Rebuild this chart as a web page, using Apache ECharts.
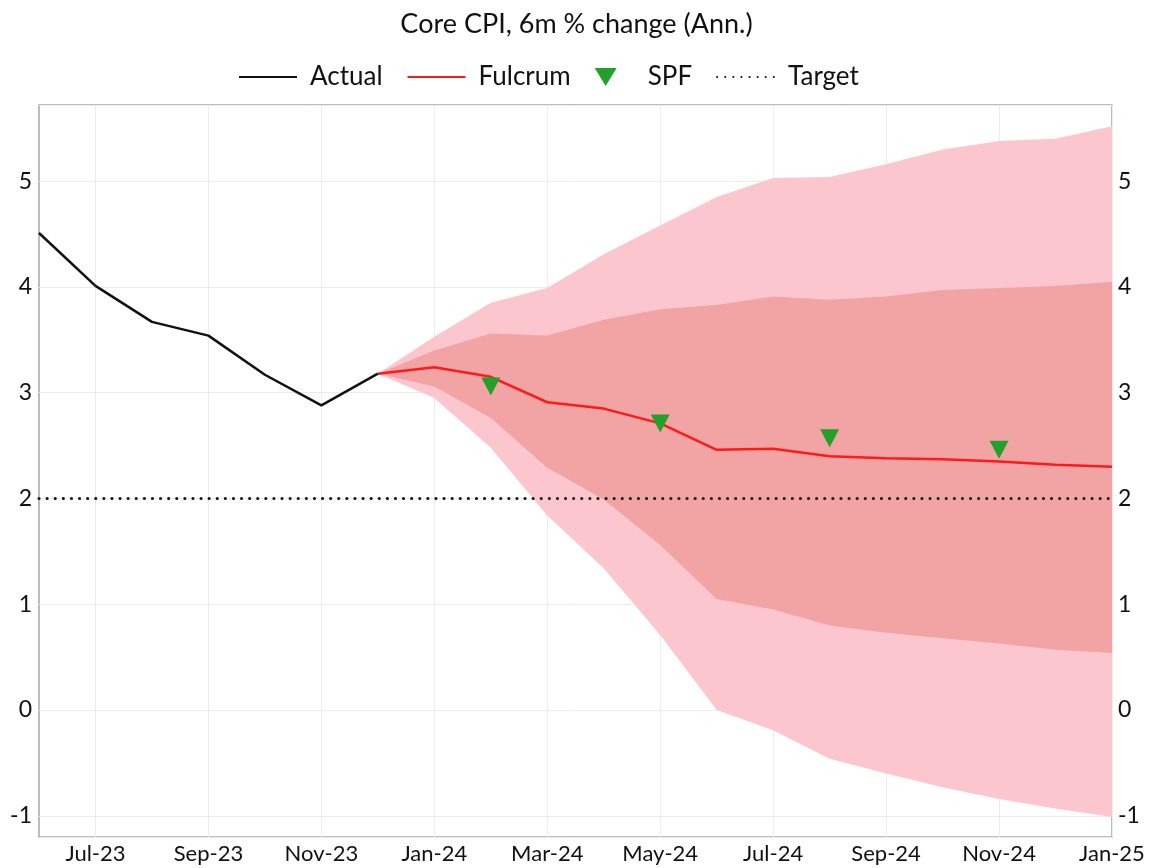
<!DOCTYPE html>
<html>
<head>
<meta charset="utf-8">
<script src="https://cdn.jsdelivr.net/npm/echarts@6/dist/echarts.min.js"></script>
<style>
  html, body { margin: 0; padding: 0; background: #fff; }
  #chart { width: 1153px; height: 868px; }
</style>
</head>
<body>
<div id="chart"></div>
<script>
const months = ['Jun-23', 'Jul-23', 'Aug-23', 'Sep-23', 'Oct-23', 'Nov-23', 'Dec-23',
  'Jan-24', 'Feb-24', 'Mar-24', 'Apr-24', 'May-24', 'Jun-24', 'Jul-24', 'Aug-24',
  'Sep-24', 'Oct-24', 'Nov-24', 'Dec-24', 'Jan-25']

const actual = [4.51, 4.01, 3.67, 3.54, 3.17, 2.88, 3.18,
  null, null, null, null, null, null, null, null, null, null, null, null, null]

const fulcrum = [null, null, null, null, null, null, 3.18,
  3.24, 3.15, 2.91, 2.85, 2.71, 2.46, 2.47, 2.40, 2.38, 2.37, 2.35, 2.32, 2.30]

// fan chart bands, from Dec-23 on
const outerUpper = [null, null, null, null, null, null, 3.18,
  3.53, 3.85, 3.99, 4.31, 4.58, 4.85, 5.03, 5.04, 5.16, 5.30, 5.38, 5.40, 5.52]
const innerUpper = [null, null, null, null, null, null, 3.18,
  3.40, 3.56, 3.54, 3.69, 3.79, 3.83, 3.91, 3.88, 3.91, 3.97, 3.99, 4.01, 4.05]
const innerLower = [null, null, null, null, null, null, 3.18,
  3.06, 2.76, 2.29, 1.99, 1.56, 1.05, 0.95, 0.80, 0.73, 0.68, 0.63, 0.57, 0.54]
const outerLower = [null, null, null, null, null, null, 3.18,
  2.95, 2.48, 1.84, 1.34, 0.71, 0.00, -0.19, -0.46, -0.60, -0.73, -0.84, -0.93, -1.01]

const spf = [null, null, null, null, null, null, null,
  null, 3.06, null, null, 2.71, null, null, 2.57, null, null, 2.46, null, null]

const target = months.map(() => 2)

const FONT = 'Lato'
const DOWN_TRIANGLE = 'path://M0,0 L22,0 L11,18 Z'
const clean = (arr) => arr.map((v) => (v == null ? '-' : v))
const diff = (hi, lo) => hi.map((v, i) => (v == null ? '-' : +(v - lo[i]).toFixed(3)))
const everyOther = (i) => i % 2 === 1

function band(name, lower, upper, color) {
  return [
    {
      name: name + '-base',
      type: 'line',
      stack: name,
      stackStrategy: 'all',
      data: clean(lower),
      showSymbol: false,
      lineStyle: { opacity: 0 },
      silent: true,
    },
    {
      name: name,
      type: 'line',
      stack: name,
      stackStrategy: 'all',
      data: diff(upper, lower),
      showSymbol: false,
      lineStyle: { opacity: 0 },
      areaStyle: { color: color, opacity: 1 },
      silent: true,
    },
  ]
}

const yLabel = {
  color: '#111',
  fontSize: 23,
  fontFamily: FONT,
  formatter: (v) => (Math.abs(v - Math.round(v)) < 1e-6 ? String(Math.round(v)) : ''),
}

const noDot = { opacity: 0 }

const chart = echarts.init(document.getElementById('chart'))
chart.setOption({
  animation: false,
  backgroundColor: '#fff',
  title: {
    text: 'Core CPI, 6m % change (Ann.)',
    left: 'center',
    top: 6,
    textStyle: { fontFamily: FONT, fontSize: 27, fontWeight: 'normal', color: '#111' },
  },
  legend: {
    top: 59,
    left: 233,
    itemWidth: 58,
    itemHeight: 18,
    itemGap: 24,
    data: [
      { name: 'Actual', itemStyle: noDot },
      { name: 'Fulcrum', itemStyle: noDot },
      { name: 'SPF', icon: DOWN_TRIANGLE },
      { name: 'Target', itemStyle: noDot },
    ],
    textStyle: { fontFamily: FONT, fontSize: 26, color: '#111', padding: [0, 0, 0, 8] },
  },
  grid: {
    left: 39, right: 41, top: 105, bottom: 31,
    show: true, borderColor: '#a8a8a8', borderWidth: 1.5,
  },
  xAxis: {
    type: 'category',
    data: months,
    boundaryGap: false,
    axisLine: { show: false },
    axisTick: { show: false },
    axisLabel: { interval: everyOther, color: '#111', fontSize: 22, fontFamily: FONT, margin: 6 },
    splitLine: { show: true, interval: everyOther, lineStyle: { color: '#ececec', width: 1 } },
  },
  yAxis: [
    {
      type: 'value',
      min: -1.2,
      max: 5.72,
      splitNumber: 7,
      axisLine: { show: false },
      axisTick: { show: false },
      axisLabel: Object.assign({ margin: 7 }, yLabel),
      splitLine: { lineStyle: { color: '#ececec', width: 1 } },
    },
    {
      type: 'value',
      position: 'right',
      min: -1.2,
      max: 5.72,
      splitNumber: 7,
      axisLine: { show: false },
      axisTick: { show: false },
      axisLabel: Object.assign({ margin: 6 }, yLabel),
      splitLine: { show: false },
    },
  ],
  series: [
    ...band('outer', outerLower, outerUpper, '#fcc6cf'),
    ...band('inner', innerLower, innerUpper, '#f2a4a5'),
    {
      name: 'Target',
      type: 'line',
      data: target,
      showSymbol: false,
      symbol: 'none',
      lineStyle: { color: '#111', width: 3, type: [0.1, 8], cap: 'round' },
      itemStyle: { color: '#111' },
      z: 3,
    },
    {
      name: 'Fulcrum',
      type: 'line',
      data: clean(fulcrum),
      showSymbol: false,
      symbol: 'none',
      lineStyle: { color: '#ff1a1a', width: 2.5 },
      itemStyle: { color: '#ff1a1a' },
      z: 4,
    },
    {
      name: 'Actual',
      type: 'line',
      data: clean(actual),
      showSymbol: false,
      symbol: 'none',
      lineStyle: { color: '#111', width: 2.5 },
      itemStyle: { color: '#111' },
      z: 4,
    },
    {
      name: 'SPF',
      type: 'scatter',
      data: clean(spf),
      symbol: DOWN_TRIANGLE,
      symbolKeepAspect: false,
      symbolSize: [19, 18],
      itemStyle: { color: '#22a02a', opacity: 1 },
      z: 5,
    },
  ],
})
</script>
</body>
</html>
